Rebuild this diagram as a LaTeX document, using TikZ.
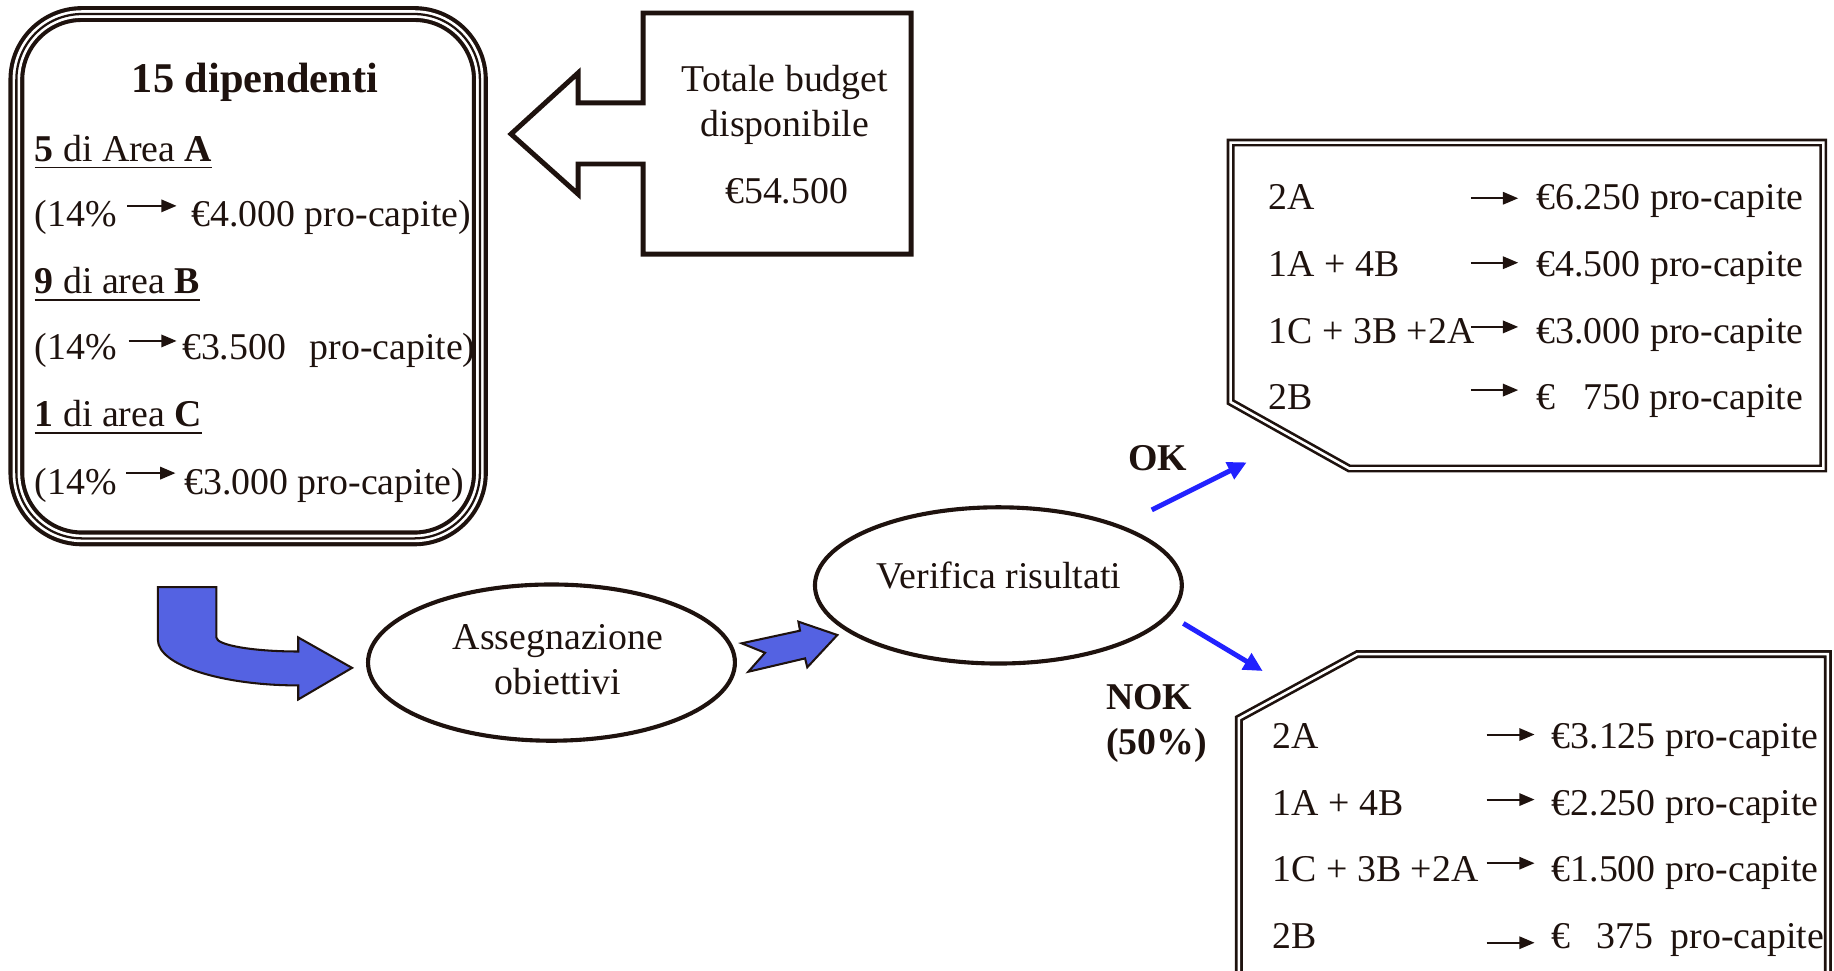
\documentclass[tikz,border=0pt]{standalone}
\usepackage{fontspec}
\setmainfont{Liberation Serif}
\usetikzlibrary{shapes.geometric,arrows.meta}
\definecolor{ink}{RGB}{30,18,14}
\definecolor{fillblue}{RGB}{84,98,226}
\definecolor{brightblue}{RGB}{34,34,255}

\begin{document}
\begin{tikzpicture}[x=0.01cm,y=-0.01cm,
  txt/.style={inner sep=0pt,anchor=base west,text=ink,font=\fontsize{9.2}{11}\selectfont},
  txtc/.style={txt,anchor=base},
  bold/.style={txt,font=\fontsize{9.2}{11}\selectfont\bfseries},
  txtarrow/.style={draw=ink,line width=0.5pt,-{Triangle[length=3.7pt,width=3pt]}},
  oval/.style={ellipse,draw=ink,line width=1pt,minimum width=3.135cm,minimum height=1.335cm,inner sep=0pt},
  blueshape/.style={fill=fillblue,draw=ink,line width=0.5pt,line join=miter},
  bluearrow/.style={draw=brightblue,line width=1.2pt,-{Triangle[length=4.6pt,width=4.4pt]}},
  framebox/.style={draw=ink,double,double distance=0.62pt,line width=0.65pt,line join=miter}]
\useasboundingbox (0,0) rectangle (1568,830);
\clip (0,0) rectangle (1568,830);

% Drawing box of the employees (triple line)
\draw[draw=ink,double,double distance=1.85pt,line width=1pt,rounded corners=0.56cm] (14,12) rectangle (410.3,460.3);
\draw[draw=ink,line width=0.55pt,rounded corners=0.56cm] (14,12) rectangle (410.3,460.3);

% Marking texts of the employees
\node[txtc,font=\fontsize{10.3}{12}\selectfont\bfseries] (title) at (218,79) {15 dipendenti};
\node[txt] (areaA) at (29,138) {\underline{\textbf{5} di Area \textbf{A}}};
\node[txt] (pctA) at (29,194) {(14\%};
\coordinate (pctAs) at (109,176);
\coordinate (pctAe) at (151,176);
\draw[txtarrow] (pctAs) -- (pctAe);
\node[txt] (eurA) at (163,194) {€4.000 pro-capite)};
\node[txt] (areaB) at (29,251) {\underline{\textbf{9} di area \textbf{B}}};
\node[txt] (pctB) at (29,307) {(14\%};
\coordinate (pctBs) at (110,291.5);
\coordinate (pctBe) at (151,291.5);
\draw[txtarrow] (pctBs) -- (pctBe);
\node[txt] (eurB) at (155,307) {€3.500\hspace{0.2cm}pro-capite)};
\node[txt] (areaC) at (29,365) {\underline{\textbf{1} di area \textbf{C}}};
\node[txt] (pctC) at (29,423) {(14\%};
\coordinate (pctCs) at (108,404.5);
\coordinate (pctCe) at (150,404.5);
\draw[txtarrow] (pctCs) -- (pctCe);
\node[txt] (eurC) at (157,423) {€3.000 pro-capite)};

% Drawing budget callout
\draw[draw=ink,line width=1.2pt,line join=miter] (549.8,11.1) -- (779,11.1) -- (779,217.2) -- (549.8,217.2)
  -- (549.8,140.2) -- (494.2,140.2) -- (494.2,165.9) -- (436.9,114.6) -- (494.2,62.4) -- (494.2,88)
  -- (549.8,88) -- cycle;
\node[txtc] (budget1) at (671,77.8) {Totale budget};
\node[txtc] (budget2) at (671,117.1) {disponibile};
\node[txtc] (budget3) at (672.6,174.4) {€54.500};

% Drawing bent blue arrow
\draw[blueshape] (135,502) -- (185,502) -- (185,545) .. controls (185,551.6) and (216.3,557) .. (255,557)
  -- (255,545) -- (301,571) -- (255,598) -- (255,586) .. controls (188.7,586) and (135,568.5) .. (135,547) -- cycle;

% Marking ellipse Assegnazione
\node[oval] (assegna) at (471.5,566.5) {};
\node[txtc] (assegna1) at (477,555.7) {Assegnazione};
\node[txtc] (assegna2) at (477,594) {obiettivi};

% Drawing small blue arrow
\draw[blueshape] (634.1,550) -- (684,539.2) -- (682.6,531.5) -- (715.9,542.9) -- (690.2,570.5)
  -- (688.3,562.9) -- (639.8,574.3) -- (654.1,558.1) -- cycle;

% Marking ellipse Verifica
\node[oval] (verifica) at (853.6,500.5) {};
\node[txtc] (verifica1) at (854,503) {Verifica risultati};

% Drawing arrows OK and NOK
\coordinate (okfrom) at (984.7,436);
\coordinate (okto) at (1065.9,395.3);
\draw[bluearrow] (okfrom) -- (okto);
\node[bold] (oklabel) at (964,402.4) {OK};
\coordinate (nokfrom) at (1011.7,533);
\coordinate (nokto) at (1079.6,573.7);
\draw[bluearrow] (nokfrom) -- (nokto);
\node[bold] (noklabel) at (945,607) {NOK};
\node[bold] (nokpct) at (945,645) {(50\%)};

% Drawing box OK
\draw[framebox] (1052.15,121.85) -- (1558.85,121.85) -- (1558.85,400.55) -- (1153.6,400.55) -- (1052.15,343.74) -- cycle;
\foreach \base/\ay/\combo/\amount [count=\i] in {
  179.5/169.5/2A/{€6.250 pro-capite},
  236.6/224.6/{1A + 4B}/{€4.500 pro-capite},
  293.5/279.5/{1C + 3B +2A}/{€3.000 pro-capite},
  350.5/333.5/2B/{€\hspace{0.24cm}750 pro-capite}}{
  \node[txt] (okl\i) at (1084,\base) {\combo};
  \coordinate (oka\i) at (1257.5,\ay);
  \coordinate (okb\i) at (1298,\ay);
  \draw[txtarrow] (oka\i) -- (okb\i);
  \node[txt] (okr\i) at (1313,\base) {\amount};
}

% Drawing box NOK
\draw[framebox] (1059.2,614.25) -- (1160.5,559.2) -- (1562.8,559.2) -- (1562.8,850) -- (1059.2,850) -- cycle;
\foreach \base/\ay/\combo/\amount [count=\i] in {
  640/628/2A/{€3.125 pro-capite},
  697/683.6/{1A + 4B}/{€2.250 pro-capite},
  754/738/{1C + 3B +2A}/{€1.500 pro-capite},
  811/806/2B/{€\hspace{0.22cm}375\hspace{0.15cm}pro-capite}}{
  \node[txt] (nokl\i) at (1087.5,\base) {\combo};
  \coordinate (noka\i) at (1271,\ay);
  \coordinate (nokb\i) at (1312,\ay);
  \draw[txtarrow] (noka\i) -- (nokb\i);
  \node[txt] (nokr\i) at (1326,\base) {\amount};
}
\end{tikzpicture}
\end{document}
